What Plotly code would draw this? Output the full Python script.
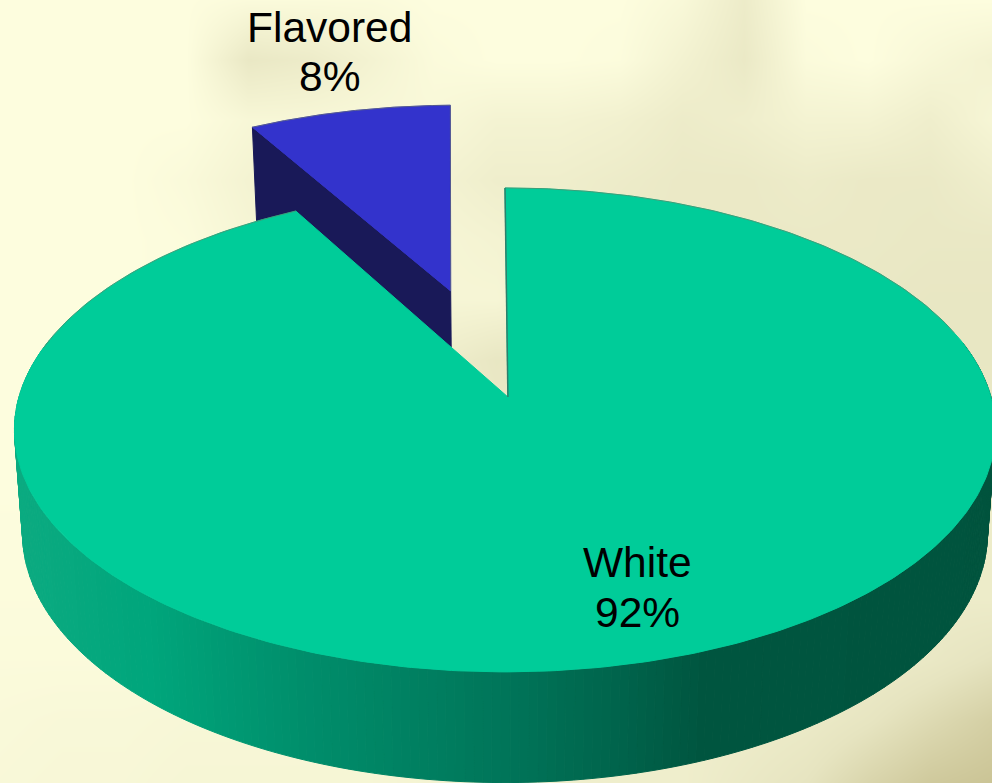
import math
import plotly.graph_objects as go

# Pie data
categories = ["White", "Flavored"]
shares = [92, 8]

# Tone of the cream backdrop on a coarse grid (0 = pale cream, 1 = dark tan)
bg_x = [0, 62, 124, 186, 248, 310, 372, 434, 496, 558, 620, 682, 744, 806, 868, 930, 992]
bg_y = [0, 60, 120, 180, 240, 300, 360, 420, 480, 540, 600, 660, 720, 783]
bg_tone = [
    [0, 0, 0, 0, .05, .05, .05, 0, 0, 0, 0, .1, .35, 0, 0, 0, 0],
    [0, 0, 0, 0, .42, .35, .2, .05, 0, 0, .03, .22, .4, .05, 0, .12, .22],
    [0, 0, 0, 0, .12, .12, .1, .1, .2, .2, .25, .35, .3, .2, .2, .3, .15],
    [0, 0, 0, .07, .2, .2, .2, .2, .3, .3, .35, .4, .4, .35, .4, .4, .3],
    [0, 0, 0, .03, .15, .15, .15, .15, .2, .3, .4, .4, .4, .4, .4, .42, .42],
    [0, 0, 0, .03, .1, .1, .1, .15, .15, .3, .4, .4, .4, .4, .42, .45, .45],
    [0, 0, 0, .03, .1, .1, .1, .3, .45, .4, .4, .4, .4, .4, .42, .45, .45],
    [0, 0, 0, 0, .05, .1, .1, .3, .4, .4, .4, .4, .4, .4, .4, .4, .4],
    [0, 0, 0, 0, .05, .1, .1, .2, .3, .3, .3, .3, .3, .3, .3, .35, .35],
    [.02, .02, .02, .02, .05, .1, .1, .2, .3, .3, .3, .3, .3, .3, .3, .35, .35],
    [.03, .03, .03, .05, .05, .1, .1, .2, .3, .3, .3, .3, .3, .3, .3, .35, .35],
    [.05, .05, .05, .05, .08, .1, .1, .2, .3, .3, .3, .3, .3, .35, .35, .42, .52],
    [.08, .1, .1, .12, .12, .12, .15, .2, .25, .3, .3, .3, .33, .38, .48, .62, .75],
    [.1, .12, .12, .15, .15, .15, .15, .2, .25, .3, .3, .3, .4, .5, .68, .82, .88],
]

# Shading of the rim, by screen position
wall_stops = [(0, (14, 172, 130)), (150, (0, 166, 124)), (300, (0, 143, 108)),
              (500, (0, 118, 90)), (620, (0, 100, 76)), (700, (0, 86, 64)), (992, (0, 84, 62))]

TOP = dict(cx=505, cy=397, a=486, b=237.5, k=0.136)
BASE = dict(cx=505, cy=499, a=478, b=245, k=0.136)
FLAVORED_SHIFT = (-0.119, 0.475)
FLAVORED_TURN = -0.016
WHITE_APEX = (0.006, 0.0)
EDGE = "rgba(110,120,95,0.55)"


def project(x, y, plane):
    w = 1 + plane["k"] * y
    return plane["cx"] + plane["a"] * x / w, plane["cy"] - plane["b"] * y / w


def rim(theta, plane, shift=(0, 0)):
    return project(shift[0] + math.sin(theta), shift[1] + math.cos(theta), plane)


def arc(start, stop, plane, shift=(0, 0), n=160):
    return [rim(start + (stop - start) * i / n, plane, shift) for i in range(n + 1)]


def wall_color(u):
    for (u0, c0), (u1, c1) in zip(wall_stops, wall_stops[1:]):
        if u <= u1:
            f = max(0, (u - u0) / (u1 - u0))
            return "rgb(%d,%d,%d)" % tuple(c0[i] + (c1[i] - c0[i]) * f for i in range(3))
    return "rgb(%d,%d,%d)" % wall_stops[-1][1]


def polygon(points, fill, width=1):
    return go.Scatter(
        x=[p[0] for p in points] + [points[0][0]],
        y=[p[1] for p in points] + [points[0][1]],
        mode="lines", fill="toself", fillcolor=fill,
        line=dict(color=fill, width=width), hoverinfo="skip", showlegend=False,
    )


def edge(points, color=EDGE, width=1):
    return go.Scatter(
        x=[p[0] for p in points], y=[p[1] for p in points], mode="lines",
        line=dict(color=color, width=width), hoverinfo="skip", showlegend=False,
    )


total = sum(shares)
sweep_white = 2 * math.pi * shares[0] / total
sweep_flavored = 2 * math.pi * shares[1] / total

fig = go.Figure()
fig.add_trace(go.Heatmap(
    x=bg_x, y=bg_y, z=bg_tone, zmin=0, zmax=1, zsmooth="best", showscale=False, hoverinfo="skip",
    colorscale=[[0, "#FDFDDE"], [0.5, "#E6E4C0"], [1, "#C2BA88"]],
))

# Flavored slice, pulled out towards the back: cut face first, then its top
f1 = FLAVORED_TURN
f0 = f1 - sweep_flavored
corner_top, corner_base = rim(f0, TOP, FLAVORED_SHIFT), rim(f0, BASE, FLAVORED_SHIFT)
apex_top, apex_base = project(*FLAVORED_SHIFT, TOP), project(*FLAVORED_SHIFT, BASE)
fig.add_trace(polygon([corner_top, apex_top, apex_base, corner_base], "#191958"))
flavored_rim = arc(f0, f1, TOP, FLAVORED_SHIFT)
fig.add_trace(polygon(flavored_rim + [apex_top], "#3333CC"))
fig.add_trace(edge(flavored_rim + [apex_top]))

# White slice: rim strips shaded across the front, then the flat top
steps = 220
first = math.pi / 2 * 0.85
span = math.pi * 1.5 - first + 0.25
for i in range(steps):
    t0 = first + span * i / steps
    t1 = first + span * (i + 1) / steps
    quad = [rim(t0, TOP), rim(t1, TOP), rim(t1, BASE), rim(t0, BASE)]
    fig.add_trace(polygon(quad, wall_color(sum(p[0] for p in quad) / 4)))

centre = project(*WHITE_APEX, TOP)
white_rim = arc(0, sweep_white, TOP, n=400)
fig.add_trace(polygon(white_rim + [centre], "#00CC99"))
fig.add_trace(edge(white_rim[:90]))
fig.add_trace(edge(white_rim[-60:]))
fig.add_trace(edge([white_rim[0], centre], "#2E7F6C", 1.5))

# Slice labels: name above percentage
label_font = dict(family="Liberation Sans, Arial, sans-serif", size=42.5, color="#000000")
label_spots = {"White": (637, 562, 612), "Flavored": (329, 27, 76)}
for name, share in zip(categories, shares):
    lx, ly_name, ly_pct = label_spots[name]
    fig.add_annotation(x=lx, y=ly_name, text=name, showarrow=False, font=label_font)
    fig.add_annotation(x=lx, y=ly_pct, text=f"{share}%", showarrow=False, font=label_font)

fig.update_layout(
    width=992, height=783, margin=dict(l=0, r=0, t=0, b=0), showlegend=False,
    paper_bgcolor="#FDFDDE", plot_bgcolor="#FDFDDE",
    xaxis=dict(range=[0, 992], visible=False, fixedrange=True),
    yaxis=dict(range=[783, 0], visible=False, fixedrange=True),
)
fig.write_html("out.html", config={"displayModeBar": False})
